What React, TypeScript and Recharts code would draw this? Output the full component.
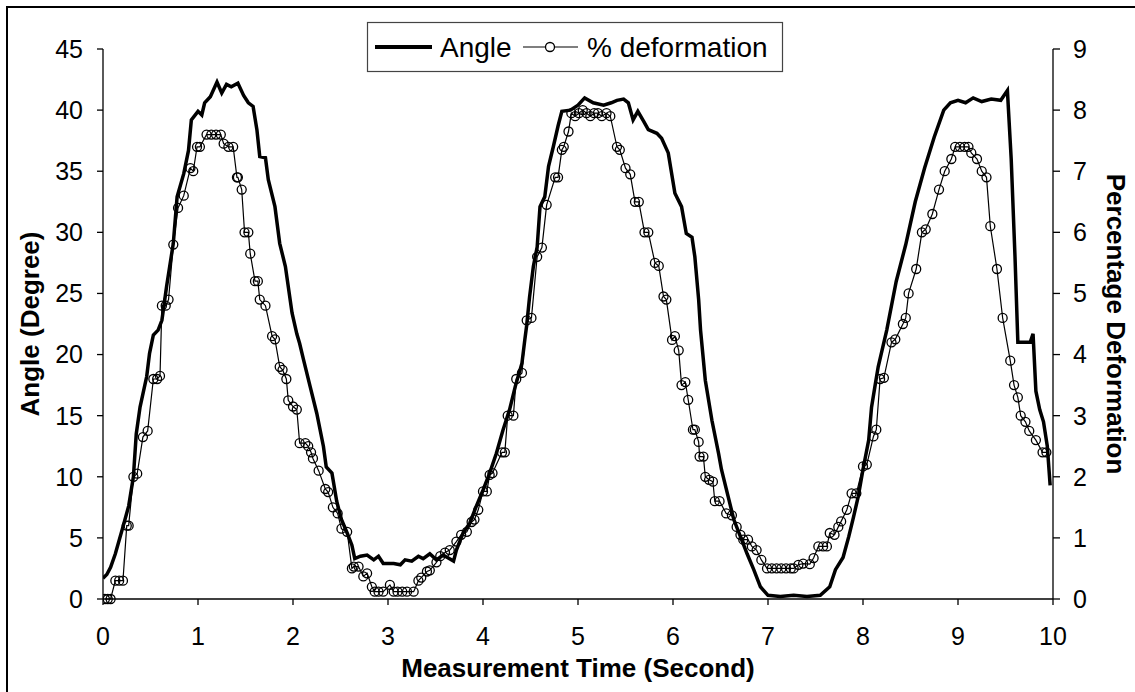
import { Line, LineChart, XAxis, YAxis } from "recharts";

// time (s) and joint angle (degree)
const angleTime = [
  0.0, 0.04, 0.08, 0.13, 0.21, 0.27, 0.32, 0.35, 0.39, 0.46, 0.49, 0.53, 0.58, 0.62, 0.67, 0.74, 0.78, 0.85,
  0.9, 0.93, 1.0, 1.04, 1.07, 1.13, 1.2, 1.25, 1.3, 1.35, 1.42, 1.48, 1.53, 1.58, 1.62, 1.65, 1.71, 1.74,
  1.81, 1.86, 1.92, 1.99, 2.04, 2.07, 2.11, 2.18, 2.25, 2.32, 2.35, 2.41, 2.46, 2.51, 2.57, 2.62, 2.65, 2.71,
  2.78, 2.85, 2.9, 2.95, 3.06, 3.13, 3.18, 3.25, 3.32, 3.37, 3.44, 3.51, 3.58, 3.69, 3.72, 3.79, 3.86, 3.93,
  4.0, 4.07, 4.14, 4.21, 4.28, 4.34, 4.41, 4.44, 4.46, 4.49, 4.53, 4.57, 4.6, 4.65, 4.69, 4.74, 4.79, 4.83,
  4.92, 5.0, 5.07, 5.16, 5.27, 5.35, 5.41, 5.48, 5.53, 5.58, 5.63, 5.69, 5.74, 5.83, 5.88, 5.95, 6.02, 6.09,
  6.14, 6.2, 6.23, 6.27, 6.29, 6.34, 6.41, 6.48, 6.51, 6.58, 6.64, 6.71, 6.78, 6.85, 6.92, 7.0, 7.13, 7.27,
  7.41, 7.55, 7.65, 7.71, 7.79, 7.85, 7.9, 7.95, 8.0, 8.06, 8.09, 8.13, 8.16, 8.25, 8.35, 8.45, 8.55, 8.65,
  8.75, 8.85, 8.92, 9.0, 9.08, 9.16, 9.25, 9.35, 9.45, 9.52, 9.56, 9.6, 9.63, 9.7, 9.76, 9.79, 9.82, 9.86,
  9.9, 9.94, 9.97,
];
const angleDeg = [
  1.7, 2.0, 2.6, 3.7, 5.9, 7.6, 10.0, 13.5, 15.7, 18.2, 20.1, 21.6, 22.0, 22.8, 25.6, 29.1, 32.9, 34.8,
  36.7, 39.2, 39.9, 39.6, 40.6, 41.1, 42.3, 41.4, 42.1, 41.9, 42.2, 41.2, 40.6, 40.3, 38.4, 36.2, 36.1, 34.3,
  32.1, 29.1, 27.2, 23.4, 21.7, 20.9, 19.6, 17.4, 15.2, 12.5, 10.8, 10.3, 8.0, 6.5, 5.4, 4.4, 3.3, 3.5,
  3.6, 3.2, 3.5, 2.9, 2.9, 2.8, 3.2, 3.1, 3.5, 3.3, 3.7, 3.2, 3.6, 3.1, 4.0, 5.4, 6.2, 7.6,
  8.9, 10.3, 11.9, 13.8, 15.5, 17.4, 19.3, 21.2, 22.4, 24.7, 27.2, 28.8, 32.1, 32.9, 35.4, 37.0, 38.7, 39.9,
  40.0, 40.4, 41.0, 40.6, 40.4, 40.6, 40.8, 40.9, 40.6, 39.2, 39.9, 39.1, 38.4, 38.1, 37.7, 36.5, 33.2, 32.1,
  29.9, 29.6, 28.0, 24.5, 22.0, 17.9, 14.6, 11.9, 10.6, 8.4, 6.5, 5.1, 3.7, 2.4, 1.0, 0.3, 0.2, 0.3,
  0.2, 0.3, 1.0, 2.4, 3.4, 5.1, 6.7, 8.4, 10.6, 13.0, 15.7, 17.6, 19.0, 22.0, 26.0, 29.0, 32.5, 35.3,
  37.8, 40.0, 40.6, 40.8, 40.6, 41.0, 40.7, 40.9, 40.8, 41.6, 36.0, 28.0, 21.0, 21.0, 21.0, 21.7, 17.0, 15.5,
  14.5, 12.5, 9.3,
];

// time (s) and percentage deformation, one entry per circle marker
const defTime = [
  0.02, 0.05, 0.08, 0.13, 0.17, 0.21, 0.25, 0.27, 0.32, 0.36, 0.42, 0.47, 0.53, 0.57, 0.6, 0.62, 0.66, 0.69,
  0.74, 0.79, 0.85, 0.92, 0.95, 0.99, 1.02, 1.09, 1.14, 1.19, 1.24, 1.27, 1.32, 1.37, 1.41, 1.42, 1.46, 1.49,
  1.53, 1.55, 1.6, 1.63, 1.65, 1.71, 1.78, 1.81, 1.86, 1.89, 1.93, 1.95, 2.0, 2.04, 2.07, 2.13, 2.16, 2.19,
  2.21, 2.27, 2.34, 2.37, 2.42, 2.47, 2.51, 2.57, 2.62, 2.64, 2.69, 2.74, 2.78, 2.83, 2.86, 2.9, 2.95, 3.02,
  3.06, 3.1, 3.15, 3.2, 3.27, 3.32, 3.35, 3.41, 3.44, 3.51, 3.55, 3.6, 3.65, 3.72, 3.77, 3.83, 3.88, 3.91,
  3.95, 4.0, 4.04, 4.07, 4.1, 4.2, 4.23, 4.26, 4.32, 4.35, 4.41, 4.46, 4.51, 4.57, 4.62, 4.67, 4.76, 4.79,
  4.83, 4.85, 4.9, 4.93, 4.97, 5.01, 5.05, 5.09, 5.13, 5.17, 5.21, 5.25, 5.3, 5.34, 5.41, 5.44, 5.5, 5.55,
  5.6, 5.64, 5.7, 5.74, 5.81, 5.85, 5.9, 5.93, 5.99, 6.02, 6.06, 6.09, 6.13, 6.16, 6.21, 6.23, 6.27, 6.28,
  6.32, 6.34, 6.38, 6.42, 6.44, 6.49, 6.56, 6.62, 6.67, 6.71, 6.74, 6.79, 6.83, 6.88, 6.93, 6.99, 7.04, 7.09,
  7.14, 7.19, 7.24, 7.27, 7.32, 7.37, 7.44, 7.48, 7.53, 7.58, 7.62, 7.65, 7.7, 7.74, 7.77, 7.83, 7.88, 7.93,
  8.0, 8.04, 8.11, 8.14, 8.18, 8.22, 8.3, 8.34, 8.42, 8.45, 8.48, 8.56, 8.62, 8.66, 8.73, 8.8, 8.86, 8.93,
  8.97, 9.02, 9.07, 9.11, 9.14, 9.2, 9.25, 9.3, 9.34, 9.41, 9.47, 9.55, 9.59, 9.63, 9.66, 9.71, 9.75, 9.82,
  9.89, 9.93,
];
const defPct = [
  0, 0, 0, 0.3, 0.3, 0.3, 1.2, 1.2, 2.0, 2.05, 2.65, 2.75, 3.6, 3.6, 3.65, 4.8, 4.8, 4.9,
  5.8, 6.4, 6.6, 7.05, 7.0, 7.4, 7.4, 7.6, 7.6, 7.6, 7.6, 7.45, 7.4, 7.4, 6.9, 6.9, 6.7, 6.0,
  6.0, 5.65, 5.2, 5.2, 4.9, 4.8, 4.3, 4.25, 3.8, 3.75, 3.6, 3.25, 3.15, 3.1, 2.55, 2.55, 2.5, 2.4,
  2.3, 2.1, 1.8, 1.75, 1.5, 1.4, 1.15, 1.1, 0.5, 0.53, 0.53, 0.37, 0.42, 0.2, 0.12, 0.12, 0.12, 0.23,
  0.12, 0.12, 0.12, 0.12, 0.12, 0.3, 0.35, 0.45, 0.47, 0.6, 0.7, 0.76, 0.8, 0.94, 1.05, 1.1, 1.26, 1.3,
  1.46, 1.76, 1.76, 2.03, 2.06, 2.4, 2.4, 3.0, 3.0, 3.6, 3.7, 4.56, 4.6, 5.6, 5.75, 6.45, 6.9, 6.9,
  7.35, 7.4, 7.65, 7.95, 7.9, 7.95, 8.0, 7.95, 7.9, 7.95, 7.95, 7.9, 7.95, 7.9, 7.4, 7.35, 7.05, 6.95,
  6.5, 6.5, 6.0, 6.0, 5.5, 5.45, 4.95, 4.9, 4.24, 4.3, 4.07, 3.5, 3.55, 3.26, 2.77, 2.77, 2.57, 2.33,
  2.33, 2.0, 1.95, 1.92, 1.6, 1.6, 1.4, 1.37, 1.18, 1.05, 0.97, 0.97, 0.86, 0.8, 0.64, 0.5, 0.5, 0.5,
  0.5, 0.5, 0.5, 0.5, 0.56, 0.58, 0.57, 0.67, 0.86, 0.86, 0.86, 1.08, 1.05, 1.18, 1.27, 1.46, 1.73, 1.73,
  2.17, 2.2, 2.66, 2.77, 3.6, 3.62, 4.2, 4.25, 4.5, 4.6, 5.0, 5.4, 6.0, 6.05, 6.3, 6.7, 7.0, 7.2,
  7.4, 7.4, 7.4, 7.4, 7.3, 7.2, 7.0, 6.9, 6.1, 5.4, 4.6, 3.9, 3.5, 3.3, 3.0, 2.9, 2.75, 2.6,
  2.4, 2.4,
];

const timeTicks = [0, 1, 2, 3, 4, 5, 6, 7, 8, 9, 10];
const angleTicks = [0, 5, 10, 15, 20, 25, 30, 35, 40, 45];
const defTicks = [0, 1, 2, 3, 4, 5, 6, 7, 8, 9];

const angleData = angleTime.map((t, i) => ({ t, v: angleDeg[i] }));
const defData = defTime.map((t, i) => ({ t, v: defPct[i] }));

const FONT = "'Liberation Sans', Arial, sans-serif";
const tickStyle = { fontSize: 25, fill: "#000", fontFamily: FONT };
const titleStyle = { fontSize: 26, fontWeight: 700, fill: "#000", fontFamily: FONT, textAnchor: "middle" as const };

function ChartLegend() {
  return (
    <svg
      width={416}
      height={50}
      style={{ position: "absolute", left: 367, top: 22, overflow: "visible" }}
    >
      <rect x={0.5} y={0.5} width={415} height={49} fill="#fff" stroke="#444" strokeWidth={1.2} />
      <line x1={8} y1={25} x2={65} y2={25} stroke="#000" strokeWidth={4} />
      <text x={73} y={35} fontSize={28} fontFamily={FONT}>
        Angle
      </text>
      <line x1={156} y1={25} x2={211} y2={25} stroke="#000" strokeWidth={1.2} />
      <circle cx={183} cy={25} r={4.5} fill="#fff" stroke="#000" strokeWidth={1.3} />
      <text x={220} y={35} fontSize={28} fontFamily={FONT}>
        % deformation
      </text>
    </svg>
  );
}

export default function App() {
  return (
    <div
      style={{
        position: "absolute",
        left: 0,
        top: 0,
        width: 1135,
        height: 692,
        overflow: "hidden",
        background: "#fff",
      }}
    >
      <div
        style={{
          position: "absolute",
          left: 6,
          top: 6,
          width: 1160,
          height: 720,
          border: "2px solid #000",
        }}
      />
      <LineChart
        width={1135}
        height={692}
        margin={{ top: 49, right: 22, bottom: 33, left: 43 }}
        style={{ position: "absolute", left: 0, top: 0 }}
      >
        <XAxis
          type="number"
          dataKey="t"
          domain={[0, 10]}
          ticks={timeTicks}
          allowDataOverflow
          height={60}
          tick={tickStyle}
          tickSize={6}
          tickMargin={22}
          stroke="#000"
          strokeWidth={1.3}
          label={{
            value: "Measurement Time (Second)",
            position: "insideBottom",
            offset: -18,
            style: titleStyle,
          }}
        />
        <YAxis
          yAxisId="left"
          domain={[0, 45]}
          ticks={angleTicks}
          width={60}
          tick={tickStyle}
          tickSize={6}
          tickMargin={14}
          stroke="#000"
          strokeWidth={1.3}
          label={{
            value: "Angle (Degree)",
            angle: -90,
            position: "insideLeft",
            offset: -13,
            style: titleStyle,
          }}
        />
        <YAxis
          yAxisId="right"
          orientation="right"
          domain={[0, 9]}
          ticks={defTicks}
          width={60}
          tick={tickStyle}
          tickSize={7}
          tickMargin={13}
          stroke="#000"
          strokeWidth={1.3}
          label={{
            value: "Percentage Deformation",
            angle: 90,
            position: "insideRight",
            offset: -3,
            style: titleStyle,
          }}
        />
        <Line
          yAxisId="left"
          data={angleData}
          dataKey="v"
          type="linear"
          stroke="#000"
          strokeWidth={3.5}
          dot={false}
          isAnimationActive={false}
        />
        <Line
          yAxisId="right"
          data={defData}
          dataKey="v"
          type="linear"
          stroke="#000"
          strokeWidth={1.2}
          dot={{ r: 4.5, stroke: "#000", strokeWidth: 1.3, fill: "none" }}
          isAnimationActive={false}
        />
      </LineChart>
      <ChartLegend />
    </div>
  );
}
